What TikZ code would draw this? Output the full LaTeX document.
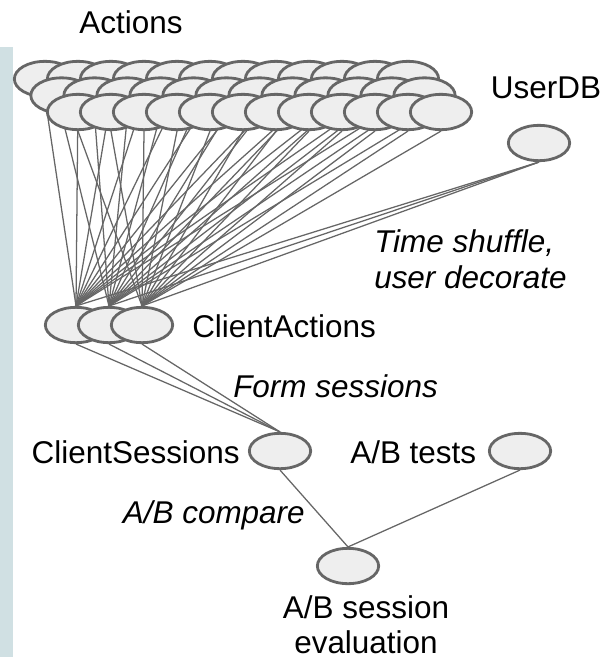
\documentclass[tikz,border=0pt]{standalone}
\usepackage{fontspec}
\setmainfont{Liberation Sans}
\usetikzlibrary{shapes.geometric,backgrounds}
\definecolor{edgegray}{HTML}{666666}
\definecolor{nodefill}{HTML}{EEEEEE}
\definecolor{sidebar}{HTML}{D0E0E3}
\begin{document}
\begin{tikzpicture}[x=0.75pt,y=-0.75pt]
        % Styles
        \tikzstyle{pcoll}=[ellipse,draw=edgegray,fill=nodefill,line width=2.1pt,minimum width=46pt,minimum height=26.5pt,inner sep=0pt]
        \tikzstyle{flow}=[draw=edgegray,line width=0.95pt]
        \tikzstyle{name text}=[font=\fontsize{23.6}{26.5}\selectfont,inner sep=0pt]
        \tikzstyle{step text}=[font=\fontsize{23.6}{27}\selectfont\itshape,inner sep=0pt,align=left]
        \useasboundingbox (0,0) rectangle (605,657);
        %side bar
        \fill[sidebar] (0,47) rectangle (12.7,657);
        %actions, three rows of twelve
        \foreach \r in {1,2,3}
            \foreach \c in {1,...,12}
                \node[pcoll] (act-\r-\c) at ({45+16.5*(\r-1)+33*(\c-1)},{79+16.5*(\r-1)}) {};
        \node[name text,anchor=base] (actions) at (131,33) {Actions};
        %user db
        \node[pcoll] (userdb) at (539,143) {};
        \node[name text,anchor=base] (userdb text) at (546,98) {UserDB};
        %client actions
        \foreach \r/\x in {1/76,2/109,3/142}
            \node[pcoll] (ca-\r) at (\x,325) {};
        \node[name text,anchor=base west] (ca text) at (192,337) {ClientActions};
        \node[step text,anchor=north west] (shuffle text) at (374,229) {Time shuffle,\\user decorate};
        %sessions and tests
        \node[pcoll] (cs) at (280,451) {};
        \node[name text,anchor=base east] (cs text) at (240,463) {ClientSessions};
        \node[step text,anchor=base west] (form text) at (233,397) {Form sessions};
        \node[pcoll] (abtests) at (520,451) {};
        \node[name text,anchor=base west] (abtests text) at (350,463) {A/B tests};
        %evaluation
        \node[pcoll] (eval) at (348,566) {};
        \node[step text,anchor=base east] (compare text) at (305,523) {A/B compare};
        \node[name text,anchor=north,align=center] (eval text) at (366,595) {A/B session\\evaluation};
        %edges
        \begin{scope}[on background layer]
            \foreach \r in {1,2,3}
                \foreach \c in {1,...,12}
                    \draw[flow] (act-\r-\c.south) -- (ca-\r.north);
            \foreach \r in {1,2,3}
            {
                \draw[flow] (userdb.south) -- (ca-\r.north);
                \draw[flow] (ca-\r.south) -- (cs.north);
            }
            \draw[flow] (cs.south) -- (eval.north);
            \draw[flow] (abtests.south) -- (eval.north);
        \end{scope}
\end{tikzpicture}
\end{document}
